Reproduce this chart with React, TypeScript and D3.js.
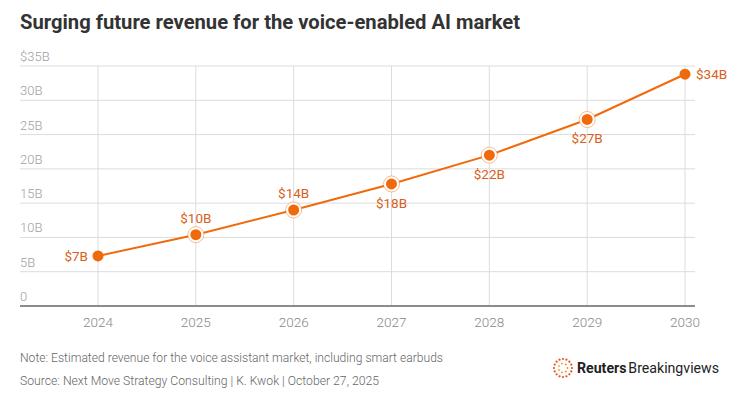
import React, { useEffect, useRef } from 'react';
import * as d3 from 'd3';

const years = [2024, 2025, 2026, 2027, 2028, 2029, 2030];
const revenue = [7.3, 10.4, 14.0, 17.8, 22.0, 27.2, 33.8];
const valueLabels = ['$7B', '$10B', '$14B', '$18B', '$22B', '$27B', '$34B'];
const labelPlacement = ['left', 'above', 'above', 'below', 'below', 'below', 'right'];
const yTicks = [0, 5, 10, 15, 20, 25, 30, 35];
const yTickLabels = ['0', '5B', '10B', '15B', '20B', '25B', '30B', '$35B'];

const title = 'Surging future revenue for the voice-enabled AI market';
const note = 'Note: Estimated revenue for the voice assistant market, including smart earbuds';
const source = 'Source: Next Move Strategy Consulting | K. Kwok | October 27, 2025';

const ORANGE = '#f06a0c';
const LABEL = '#d9611c';
const FONT = 'Roboto, "Noto Sans", sans-serif';

const App = () => {
    const svgRef = useRef<SVGSVGElement | null>(null);

    useEffect(() => {
        const width = 737;
        const height = 399;
        const plot = { left: 20, right: 695, top: 66, bottom: 306 };

        const svg = d3.select(svgRef.current);
        svg.selectAll('*').remove();
        svg.attr('width', width).attr('height', height);

        const x = d3.scaleLinear().domain([2024, 2030]).range([98, 685]);
        const y = d3.scaleLinear().domain([0, 35]).range([plot.bottom, plot.top]);

        // title
        svg.append('text')
            .attr('x', 20).attr('y', 29)
            .attr('font-family', FONT)
            .attr('font-weight', 700)
            .attr('font-size', 20)
            .attr('fill', '#333')
            .attr('textLength', 500)
            .attr('lengthAdjust', 'spacingAndGlyphs')
            .text(title);

        // horizontal grid + labels
        yTicks.forEach((t, i) => {
            if (t > 0) {
                svg.append('line')
                    .attr('x1', plot.left).attr('x2', plot.right)
                    .attr('y1', y(t)).attr('y2', y(t))
                    .attr('stroke', '#dcdcdc').attr('stroke-width', 1);
            }
            svg.append('text')
                .attr('x', plot.left).attr('y', y(t) - 5)
                .attr('font-family', FONT)
                .attr('font-weight', 300)
                .attr('font-size', 13)
                .attr('fill', '#a0a0a0')
                .text(yTickLabels[i]);
        });

        // vertical grid + year labels
        years.forEach(yr => {
            svg.append('line')
                .attr('x1', x(yr)).attr('x2', x(yr))
                .attr('y1', plot.top).attr('y2', plot.bottom)
                .attr('stroke', '#dcdcdc').attr('stroke-width', 1);
            svg.append('text')
                .attr('x', x(yr)).attr('y', plot.bottom + 21)
                .attr('text-anchor', 'middle')
                .attr('font-family', FONT)
                .attr('font-weight', 300)
                .attr('font-size', 13.5)
                .attr('fill', '#888')
                .text(yr);
        });

        // baseline
        svg.append('line')
            .attr('x1', plot.left).attr('x2', plot.right)
            .attr('y1', plot.bottom).attr('y2', plot.bottom)
            .attr('stroke', '#666').attr('stroke-width', 1.5);

        // line
        const line = d3.line<number>()
            .x((_, i) => x(years[i]))
            .y(d => y(d));
        svg.append('path')
            .datum(revenue)
            .attr('d', line)
            .attr('fill', 'none')
            .attr('stroke', ORANGE)
            .attr('stroke-width', 2);

        // halos on middle points
        revenue.forEach((v, i) => {
            if (i === 0 || i === revenue.length - 1) return;
            svg.append('circle')
                .attr('cx', x(years[i])).attr('cy', y(v))
                .attr('r', 8)
                .attr('fill', 'white')
                .attr('stroke', ORANGE)
                .attr('stroke-opacity', 0.45)
                .attr('stroke-width', 1);
        });

        svg.selectAll('.pt')
            .data(revenue)
            .enter()
            .append('circle')
            .attr('cx', (_, i) => x(years[i]))
            .attr('cy', d => y(d))
            .attr('r', 5.5)
            .attr('fill', ORANGE);

        // value labels
        revenue.forEach((v, i) => {
            const px = x(years[i]);
            const py = y(v);
            const pos = labelPlacement[i];
            const t = svg.append('text')
                .attr('font-family', FONT)
                .attr('font-size', 13.5)
                .attr('fill', LABEL)
                .text(valueLabels[i]);
            if (pos === 'left') {
                t.attr('x', px - 10).attr('y', py + 5).attr('text-anchor', 'end');
            } else if (pos === 'right') {
                t.attr('x', px + 11).attr('y', py + 5).attr('text-anchor', 'start');
            } else if (pos === 'above') {
                t.attr('x', px).attr('y', py - 12).attr('text-anchor', 'middle');
            } else {
                t.attr('x', px).attr('y', py + 24).attr('text-anchor', 'middle');
            }
        });

        // footer
        svg.append('text')
            .attr('x', 20).attr('y', 362)
            .attr('font-family', FONT)
            .attr('font-weight', 300)
            .attr('font-size', 13)
            .attr('fill', '#666')
            .attr('textLength', 423)
            .attr('lengthAdjust', 'spacingAndGlyphs')
            .text(note);
        svg.append('text')
            .attr('x', 20).attr('y', 385)
            .attr('font-family', FONT)
            .attr('font-weight', 300)
            .attr('font-size', 13)
            .attr('fill', '#666')
            .attr('textLength', 359)
            .attr('lengthAdjust', 'spacingAndGlyphs')
            .text(source);

        // logo: dotted ring + wordmark
        const logo = svg.append('g').attr('transform', 'translate(563,368)');
        [4.5, 9].forEach((r, ri) => {
            const n = [7, 16][ri];
            d3.range(n).forEach(k => {
                const a = (k / n) * 2 * Math.PI;
                logo.append('circle')
                    .attr('cx', Math.cos(a) * r)
                    .attr('cy', Math.sin(a) * r)
                    .attr('r', ri === 1 ? 1.1 : 0.9)
                    .attr('fill', ri === 0 ? '#f08a30' : '#e2571a');
            });
        });
        const word = svg.append('text')
            .attr('x', 577).attr('y', 373)
            .attr('font-family', FONT)
            .attr('font-size', 15)
            .attr('fill', '#222')
            .attr('textLength', 142)
            .attr('lengthAdjust', 'spacingAndGlyphs');
        word.append('tspan').attr('font-weight', 700).text('Reuters');
        word.append('tspan').attr('font-weight', 400).attr('dx', 2).text('Breakingviews');
    }, []);

    return (
        <div style={{ position: 'absolute', left: 0, top: 0, background: 'white' }}>
            <svg ref={svgRef}></svg>
        </div>
    );
};

export default App;
